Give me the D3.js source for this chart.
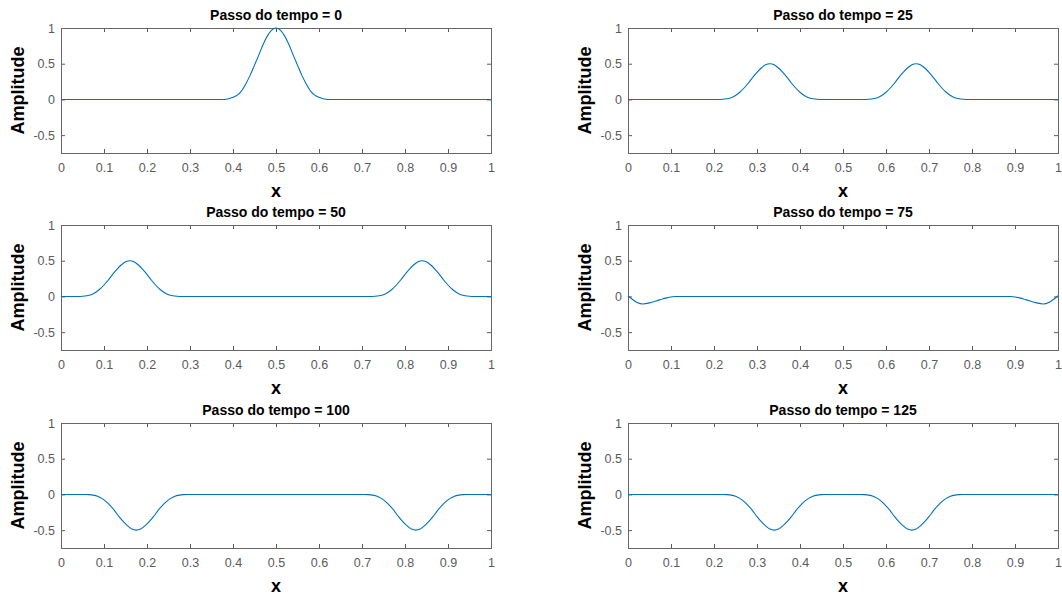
<!DOCTYPE html>
<html>
<head>
<meta charset="utf-8">
<script src="https://cdn.jsdelivr.net/npm/d3@7"></script>
<style>
    body { margin: 0; background: #fff; }
    text { font-family: "Liberation Sans", Arial, sans-serif; }
</style>
</head>
<body>
<svg id="chart"></svg>
<script>
const passos = [0, 25, 50, 75, 100, 125];
const xTicks = [0, 0.1, 0.2, 0.3, 0.4, 0.5, 0.6, 0.7, 0.8, 0.9, 1];
const yTicks = [-0.5, 0, 0.5, 1];

const x_passo0 = [0, 0.38, 0.39, 0.40, 0.41, 0.42, 0.43, 0.44, 0.45, 0.46, 0.47, 0.48, 0.49, 0.50,
    0.51, 0.52, 0.53, 0.54, 0.55, 0.56, 0.57, 0.58, 0.59, 0.60, 0.61, 0.62, 1];
const y_passo0 = [0, 0, 0.01, 0.03, 0.06, 0.12, 0.22, 0.34, 0.48, 0.62, 0.77, 0.89, 0.97, 1,
    0.97, 0.89, 0.77, 0.62, 0.48, 0.34, 0.22, 0.12, 0.06, 0.03, 0.01, 0, 0];

const x_passo25 = [0, 0.21, 0.22, 0.23, 0.24, 0.25, 0.26, 0.27, 0.28, 0.29, 0.30, 0.31, 0.32, 0.33,
    0.34, 0.35, 0.36, 0.37, 0.38, 0.39, 0.40, 0.41, 0.42, 0.43, 0.44, 0.45,
    0.55, 0.56, 0.57, 0.58, 0.59, 0.60, 0.61, 0.62, 0.63, 0.64, 0.65, 0.66, 0.67,
    0.68, 0.69, 0.70, 0.71, 0.72, 0.73, 0.74, 0.75, 0.76, 0.77, 0.78, 0.79, 1];
const y_passo25 = [0, 0, 0.003, 0.01, 0.025, 0.055, 0.10, 0.16, 0.23, 0.31, 0.38, 0.44, 0.485, 0.50,
    0.485, 0.44, 0.38, 0.31, 0.23, 0.16, 0.10, 0.055, 0.025, 0.01, 0.003, 0,
    0, 0.003, 0.01, 0.025, 0.055, 0.10, 0.16, 0.23, 0.31, 0.38, 0.44, 0.485, 0.50,
    0.485, 0.44, 0.38, 0.31, 0.23, 0.16, 0.10, 0.055, 0.025, 0.01, 0.003, 0, 0];

const x_passo50 = [0, 0.04, 0.05, 0.06, 0.07, 0.08, 0.09, 0.10, 0.11, 0.12, 0.13, 0.14, 0.15, 0.16,
    0.17, 0.18, 0.19, 0.20, 0.21, 0.22, 0.23, 0.24, 0.25, 0.26, 0.27, 0.28,
    0.72, 0.73, 0.74, 0.75, 0.76, 0.77, 0.78, 0.79, 0.80, 0.81, 0.82, 0.83, 0.84,
    0.85, 0.86, 0.87, 0.88, 0.89, 0.90, 0.91, 0.92, 0.93, 0.94, 0.95, 0.96, 1];
const y_passo50 = [0, 0, 0.003, 0.01, 0.025, 0.055, 0.10, 0.16, 0.23, 0.31, 0.38, 0.44, 0.485, 0.50,
    0.485, 0.44, 0.38, 0.31, 0.23, 0.16, 0.10, 0.055, 0.025, 0.01, 0.003, 0,
    0, 0.003, 0.01, 0.025, 0.055, 0.10, 0.16, 0.23, 0.31, 0.38, 0.44, 0.485, 0.50,
    0.485, 0.44, 0.38, 0.31, 0.23, 0.16, 0.10, 0.055, 0.025, 0.01, 0.003, 0, 0];

const x_passo75 = [0, 0.01, 0.02, 0.035, 0.05, 0.06, 0.07, 0.08, 0.09, 0.10, 0.11, 0.12,
    0.88, 0.89, 0.90, 0.91, 0.92, 0.93, 0.94, 0.95, 0.965, 0.98, 0.99, 1];
const y_passo75 = [0.01, -0.04, -0.08, -0.105, -0.09, -0.075, -0.055, -0.035, -0.02, -0.008, -0.002, 0,
    0, -0.002, -0.008, -0.02, -0.035, -0.055, -0.075, -0.09, -0.105, -0.08, -0.04, 0.01];

const x_passo100 = [0, 0.055, 0.065, 0.075, 0.085, 0.095, 0.105, 0.115, 0.125, 0.135, 0.145, 0.155, 0.165, 0.175,
    0.185, 0.195, 0.205, 0.215, 0.225, 0.235, 0.245, 0.255, 0.265, 0.275, 0.285, 0.295,
    0.705, 0.715, 0.725, 0.735, 0.745, 0.755, 0.765, 0.775, 0.785, 0.795, 0.805, 0.815, 0.825,
    0.835, 0.845, 0.855, 0.865, 0.875, 0.885, 0.895, 0.905, 0.915, 0.925, 0.935, 0.945, 1];
const y_passo100 = [0, 0, -0.003, -0.01, -0.025, -0.055, -0.10, -0.16, -0.23, -0.31, -0.38, -0.44, -0.485, -0.50,
    -0.485, -0.44, -0.38, -0.31, -0.23, -0.16, -0.10, -0.055, -0.025, -0.01, -0.003, 0,
    0, -0.003, -0.01, -0.025, -0.055, -0.10, -0.16, -0.23, -0.31, -0.38, -0.44, -0.485, -0.50,
    -0.485, -0.44, -0.38, -0.31, -0.23, -0.16, -0.10, -0.055, -0.025, -0.01, -0.003, 0, 0];

const x_passo125 = [0, 0.22, 0.23, 0.24, 0.25, 0.26, 0.27, 0.28, 0.29, 0.30, 0.31, 0.32, 0.33, 0.34,
    0.35, 0.36, 0.37, 0.38, 0.39, 0.40, 0.41, 0.42, 0.43, 0.44, 0.45, 0.46,
    0.54, 0.55, 0.56, 0.57, 0.58, 0.59, 0.60, 0.61, 0.62, 0.63, 0.64, 0.65, 0.66,
    0.67, 0.68, 0.69, 0.70, 0.71, 0.72, 0.73, 0.74, 0.75, 0.76, 0.77, 0.78, 1];
const y_passo125 = [0, 0, -0.003, -0.01, -0.025, -0.055, -0.10, -0.16, -0.23, -0.31, -0.38, -0.44, -0.485, -0.50,
    -0.485, -0.44, -0.38, -0.31, -0.23, -0.16, -0.10, -0.055, -0.025, -0.01, -0.003, 0,
    0, -0.003, -0.01, -0.025, -0.055, -0.10, -0.16, -0.23, -0.31, -0.38, -0.44, -0.485, -0.50,
    -0.485, -0.44, -0.38, -0.31, -0.23, -0.16, -0.10, -0.055, -0.025, -0.01, -0.003, 0, 0];

const series = [
    [x_passo0, y_passo0],
    [x_passo25, y_passo25],
    [x_passo50, y_passo50],
    [x_passo75, y_passo75],
    [x_passo100, y_passo100],
    [x_passo125, y_passo125]
];

function draw_panels() {
    const width = 1062;
    const height = 597;
    const col_left = [61, 628];
    const row_top = [28, 225, 423];
    const plot_w = 430;
    const plot_h = 125;
    const axis_color = "#5a5a5a";
    const label_font = 12.5;

    const svg = d3.select("#chart")
        .attr("width", width)
        .attr("height", height);

    passos.forEach((passo, i) => {
        const left = col_left[i % 2];
        const top = row_top[Math.floor(i / 2)];

        const x = d3.scaleLinear().domain([0, 1]).range([left, left + plot_w]);
        const y = d3.scaleLinear().domain([-0.75, 1]).range([top + plot_h, top]);

        const g = svg.append("g");

        // ticks pointing inward on all four sides, like matlab
        g.append("g")
            .attr("transform", `translate(0,${top + plot_h})`)
            .attr("color", axis_color)
            .call(d3.axisBottom(x).tickValues(xTicks).tickSizeInner(-4).tickSizeOuter(0)
                .tickPadding(10).tickFormat(d => String(d)))
            .call(a => a.select(".domain").remove())
            .call(a => a.selectAll("text").attr("font-size", label_font).attr("font-family", null));

        g.append("g")
            .attr("transform", `translate(${left},0)`)
            .attr("color", axis_color)
            .call(d3.axisLeft(y).tickValues(yTicks).tickSizeInner(-4).tickSizeOuter(0)
                .tickPadding(6).tickFormat(d => String(d)))
            .call(a => a.select(".domain").remove())
            .call(a => a.selectAll("text").attr("font-size", label_font).attr("font-family", null));

        g.append("g")
            .attr("transform", `translate(0,${top})`)
            .attr("color", axis_color)
            .call(d3.axisTop(x).tickValues(xTicks).tickSizeInner(-4).tickSizeOuter(0).tickFormat(""))
            .call(a => a.select(".domain").remove());

        g.append("g")
            .attr("transform", `translate(${left + plot_w},0)`)
            .attr("color", axis_color)
            .call(d3.axisRight(y).tickValues(yTicks).tickSizeInner(-4).tickSizeOuter(0).tickFormat(""))
            .call(a => a.select(".domain").remove());

        g.append("rect")
            .attr("x", left + 0.5)
            .attr("y", top + 0.5)
            .attr("width", plot_w)
            .attr("height", plot_h)
            .attr("fill", "none")
            .attr("stroke", "#666")
            .attr("stroke-width", 1);

        const [xs, ys] = series[i];
        const line = d3.line()
            .x(d => x(d[0]))
            .y(d => y(d[1]))
            .curve(d3.curveMonotoneX);

        g.append("path")
            .datum(xs.map((v, k) => [v, ys[k]]))
            .attr("fill", "none")
            .attr("stroke", "#0072BD")
            .attr("stroke-width", 1.1)
            .attr("d", line);

        g.append("text")
            .attr("x", left + plot_w / 2)
            .attr("y", top - 8)
            .attr("text-anchor", "middle")
            .attr("font-size", 14)
            .attr("font-weight", "bold")
            .text(`Passo do tempo = ${passo}`);

        g.append("text")
            .attr("x", left + plot_w / 2)
            .attr("y", top + plot_h + 44)
            .attr("text-anchor", "middle")
            .attr("font-size", 18)
            .attr("font-weight", "bold")
            .text("x");

        g.append("text")
            .attr("transform", `translate(${left - 37},${top + plot_h / 2}) rotate(-90)`)
            .attr("text-anchor", "middle")
            .attr("font-size", 18)
            .attr("font-weight", "bold")
            .text("Amplitude");
    });
}

draw_panels();
</script>
</body>
</html>
